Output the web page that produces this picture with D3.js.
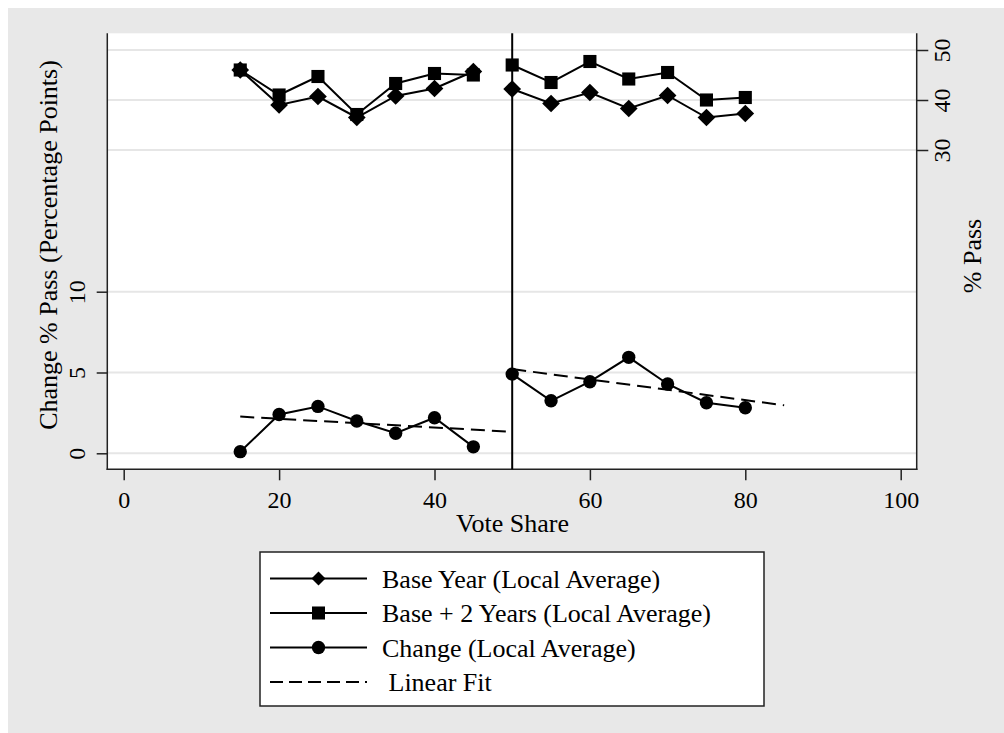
<!DOCTYPE html>
<html><head><meta charset="utf-8">
<script src="https://cdn.jsdelivr.net/npm/d3@7"></script>
<style>
html,body{margin:0;padding:0;background:#fff;}
svg text{font-family:"Liberation Serif","Times New Roman",serif;fill:#000;}
</style></head>
<body>
<svg id="chart" width="1004" height="733"></svg>
<script>
// ---- data ----
const voteShare = [15,20,25,30,35,40,45,50,55,60,65,70,75,80];
const baseYear  = [46,39,40.7,36.5,40.8,42.3,45.7,42.2,39.3,41.5,38.3,40.9,36.5,37.3];
const basePlus2 = [46,41,44.7,37.1,43.3,45.3,45,47,43.5,47.7,44.2,45.5,40,40.5];
const change    = [0.1,2.4,2.9,2.0,1.24,2.2,0.4,4.9,3.25,4.43,5.94,4.29,3.13,2.82];
const fitLeftX  = [15,50];
const fitLeftY  = [2.27,1.33];
const fitRightX = [50,85];
const fitRightY = [5.21,2.97];
const cutoff = 50;
const xTicks = [0,20,40,60,80,100];
const yLeftTicks = [0,5,10];
const yRightTicks = [30,40,50];
const legendLabels = ["Base Year (Local Average)","Base + 2 Years (Local Average)","Change (Local Average)"," Linear Fit"];

const svg = d3.select("#chart");
const FS = 24, TS = 26;
// background
svg.append("rect").attr("x",8).attr("y",8).attr("width",996).attr("height",725).attr("fill","#e8e8e8");

const plot = {l:107.3, r:916.7, t:33.3, b:469.3};
svg.append("rect").attr("x",plot.l).attr("y",plot.t).attr("width",plot.r-plot.l).attr("height",plot.b-plot.t).attr("fill","#fff");

const x = d3.scaleLinear().domain([0,100]).range([123.7,900.7]);
const yL = d3.scaleLinear().domain([0,10]).range([453.3,291.7]);
const yR = d3.scaleLinear().domain([30,50]).range([150,50]);

// gridlines
const grid = svg.append("g");
yLeftTicks.forEach(v=>grid.append("line").attr("x1",plot.l).attr("x2",plot.r).attr("y1",yL(v)).attr("y2",yL(v)).attr("stroke","#e6e6e6").attr("stroke-width",2));
yRightTicks.forEach(v=>grid.append("line").attr("x1",plot.l).attr("x2",plot.r).attr("y1",yR(v)).attr("y2",yR(v)).attr("stroke","#e6e6e6").attr("stroke-width",2));

// axes
const axisColor = "#222";
function styleAxis(g){
  g.select(".domain").remove();
  g.selectAll(".tick line").attr("stroke",axisColor).attr("stroke-width",1.5);
  g.selectAll(".tick text").style("font-size",FS+"px").style("font-family","Liberation Serif").attr("fill","#000");
}
const gx = svg.append("g").attr("transform",`translate(0,${plot.b})`)
  .call(d3.axisBottom(x).tickValues(xTicks).tickSize(11).tickPadding(0).tickFormat(d3.format("d")));
styleAxis(gx);
gx.selectAll(".tick text").attr("y",39).attr("dy",0);

const gyl = svg.append("g").attr("transform",`translate(${plot.l},0)`)
  .call(d3.axisLeft(yL).tickValues(yLeftTicks).tickSize(10.6).tickFormat(d3.format("d")));
styleAxis(gyl);
gyl.selectAll(".tick text").attr("x",null).attr("dy",null).attr("text-anchor","middle")
  .attr("transform","translate(-30.6,0) rotate(-90)").attr("dy","0.35em");

const gyr = svg.append("g").attr("transform",`translate(${plot.r},0)`)
  .call(d3.axisRight(yR).tickValues(yRightTicks).tickSize(11.6).tickFormat(d3.format("d")));
styleAxis(gyr);
gyr.selectAll(".tick text").attr("x",null).attr("dy",null).attr("text-anchor","middle")
  .attr("transform","translate(25,0) rotate(-90)").attr("dy","0.35em");

// axis lines
svg.append("line").attr("x1",plot.l).attr("x2",plot.l).attr("y1",plot.t).attr("y2",plot.b+0.75).attr("stroke",axisColor).attr("stroke-width",1.5);
svg.append("line").attr("x1",plot.r).attr("x2",plot.r).attr("y1",plot.t).attr("y2",plot.b+0.75).attr("stroke",axisColor).attr("stroke-width",1.5);
svg.append("line").attr("x1",plot.l-0.75).attr("x2",plot.r+0.75).attr("y1",plot.b).attr("y2",plot.b).attr("stroke",axisColor).attr("stroke-width",1.5);

// axis titles
svg.append("text").attr("x",512.5).attr("y",532).attr("text-anchor","middle").style("font-size",TS+"px").text("Vote Share");
svg.append("text").attr("transform","translate(48,245) rotate(-90)").attr("dy","0.35em").attr("text-anchor","middle").style("font-size",TS+"px").text("Change % Pass (Percentage Points)");
svg.append("text").attr("transform","translate(971.7,256) rotate(-90)").attr("dy","0.35em").attr("text-anchor","middle").style("font-size",TS+"px").text("% Pass");

// cutoff line
svg.append("line").attr("x1",x(cutoff)).attr("x2",x(cutoff)).attr("y1",plot.t).attr("y2",plot.b).attr("stroke","#000").attr("stroke-width",2);

// series
const idx = voteShare.map((d,i)=>i);
const leftIdx = idx.filter(i=>voteShare[i]<cutoff);
const rightIdx = idx.filter(i=>voteShare[i]>=cutoff);

function drawSeries(vals, yScale, symbolType, size){
  const line = d3.line().x(i=>x(voteShare[i])).y(i=>yScale(vals[i]));
  [leftIdx,rightIdx].forEach(seg=>{
    svg.append("path").attr("d",line(seg)).attr("fill","none").attr("stroke","#000").attr("stroke-width",2);
  });
  const sym = d3.symbol().type(symbolType).size(size);
  svg.append("g").selectAll("path").data(idx).join("path")
    .attr("transform",i=>`translate(${x(voteShare[i])},${yScale(vals[i])})`)
    .attr("d",sym).attr("fill","#000");
}
drawSeries(baseYear, yR, d3.symbolDiamond2, 200);
drawSeries(basePlus2, yR, d3.symbolSquare, 172);
drawSeries(change, yL, d3.symbolCircle, 140);

// linear fits
const fitLine = d3.line().x(d=>x(d[0])).y(d=>yL(d[1]));
[[fitLeftX,fitLeftY],[fitRightX,fitRightY]].forEach(([xs,ys])=>{
  svg.append("path").attr("d",fitLine(xs.map((v,i)=>[v,ys[i]]))).attr("fill","none")
    .attr("stroke","#000").attr("stroke-width",2).attr("stroke-dasharray","14,7");
});

// legend
const lg = svg.append("g");
lg.append("rect").attr("x",260).attr("y",552).attr("width",504).attr("height",154).attr("fill","#fff").attr("stroke","#222").attr("stroke-width",1.5);
const rowsY = [578.5,613,647.5,682];
const symTypes = [d3.symbolDiamond2, d3.symbolSquare, d3.symbolCircle];
const symSizes = [125,170,140];
legendLabels.forEach((lab,i)=>{
  const yy = rowsY[i];
  lg.append("line").attr("x1",270).attr("x2",367).attr("y1",yy).attr("y2",yy).attr("stroke","#000").attr("stroke-width",2)
    .attr("stroke-dasharray", i===3 ? "13,6" : null);
  if(i<3){
    lg.append("path").attr("transform",`translate(318.5,${yy})`).attr("d",d3.symbol().type(symTypes[i]).size(symSizes[i])).attr("fill","#000");
  }
  lg.append("text").attr("x",382).attr("y",yy).attr("dy","0.35em").style("font-size",TS+"px").style("white-space","pre").text(lab);
});
</script>
</body></html>
